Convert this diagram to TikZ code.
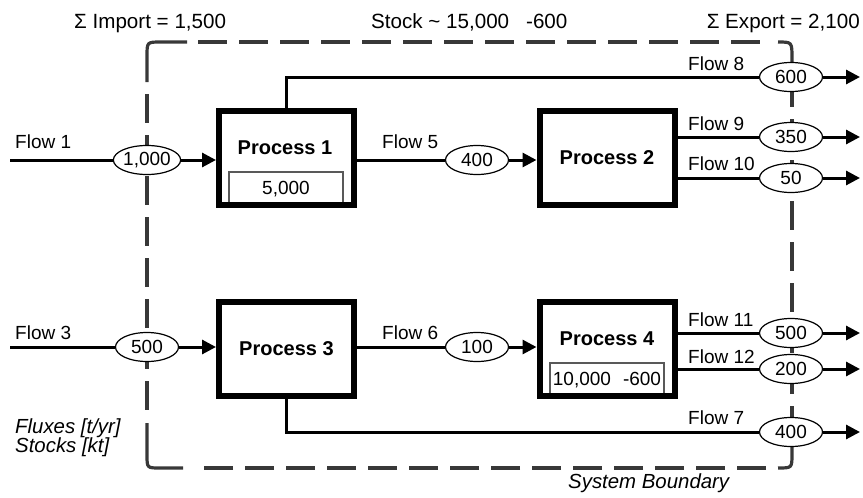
\documentclass[tikz,border=0pt]{standalone}
\usepackage{fontspec}
\setmainfont{Liberation Sans}
\usetikzlibrary{shapes.geometric,arrows.meta}
\begin{document}
\begin{tikzpicture}[x=1pt,y=-1pt,
  txt/.style={inner sep=0pt, font=\fontsize{19}{22}\selectfont},
  lbl/.style={txt, anchor=base west},
  head/.style={inner sep=0pt, font=\fontsize{20.6}{24}\selectfont},
  itl/.style={inner sep=0pt, anchor=base west, font=\fontsize{20.4}{24}\selectfont\itshape},
  proc/.style={draw, line width=6pt, minimum width=135pt, minimum height=94pt, inner sep=0pt, font=\fontsize{20}{24}\selectfont\bfseries},
  proctext/.style={inner sep=0pt, anchor=base, font=\fontsize{20}{24}\selectfont\bfseries},
  stockbox/.style={draw=black!65, line width=1.2pt, minimum width=114pt, minimum height=34pt, inner sep=0pt, font=\fontsize{19}{22}\selectfont},
  val/.style={ellipse, draw, line width=1.2pt, fill=white, minimum width=63pt, minimum height=29pt, inner sep=0pt, font=\fontsize{19}{22}\selectfont},
  flow/.style={line width=3pt},
  flowarrow/.style={flow, -{Triangle[length=14pt,width=14pt]}},
  bdash/.style={line width=3.2pt, draw=black!78, dash pattern=on 29pt off 12pt},
  bsolid/.style={line width=3.2pt, draw=black!78}
]
\useasboundingbox (0,0) rectangle (863,498);

% system boundary
\draw[bsolid] (147,82) -- (147,56) .. controls (147,42) .. (161,42) -- (187,42);
\draw[bdash] (198,42) -- (770,42);
\draw[bsolid] (778,42) .. controls (792,42) .. (792,58) -- (792,66);
\draw[bdash, dash phase=29pt] (792,66) -- (792,446);
\draw[bsolid] (792,446) -- (792,454) .. controls (792,468) .. (778,468);
\draw[bdash] (766,468) -- (195,468);
\draw[bsolid] (147,423) -- (147,455) .. controls (147,468) .. (160,468) -- (183,468);
\draw[bdash] (147,94) -- (147,412);

% stock boxes (drawn first, bottoms hidden under process borders)
\node[stockbox] (s1) at (286,189) {5,000};
\node[stockbox] (s4) at (607,380) {10,000\hspace{12pt}-600};

% processes
\node[proc] (p1) at (286.5,158) {};
\node[proc] (p2) at (607,158) {Process 2};
\node[proc] (p3) at (286.5,348.5) {Process 3};
\node[proc] (p4) at (607,349) {};
\node[proctext] (p1t) at (285,154) {Process 1};
\node[proctext] (p4t) at (607,345) {Process 4};

% value ellipses
\node[val] (e1) at (147,160) {1,000};
\node[val] (e5) at (477,160) {400};
\node[val] (e8) at (791,77) {600};
\node[val] (e9) at (791,137) {350};
\node[val] (e10) at (791,178) {50};
\node[val] (e3) at (147,347) {500};
\node[val] (e6) at (477,347) {100};
\node[val] (e11) at (791,333) {500};
\node[val] (e12) at (791,369) {200};
\node[val] (e7) at (791,432) {400};

% free ends
\coordinate (in1) at (10,160);
\coordinate (in3) at (10,347);
\coordinate (o8) at (860,77);
\coordinate (o9) at (860,137);
\coordinate (o10) at (860,178);
\coordinate (o11) at (860,333);
\coordinate (o12) at (860,369);
\coordinate (o7) at (860,432);

% flows
\draw[flow] (in1) -- (e1.west);
\draw[flowarrow] (e1.east) -- (e1.east -| p1.west);
\draw[flow] (p1.east |- e5.west) -- (e5.west);
\draw[flowarrow] (e5.east) -- (e5.east -| p2.west);
\draw[flow] (p1.north) |- (e8.west);
\draw[flowarrow] (e8.east) -- (o8);
\draw[flow] (p2.east |- e9.west) -- (e9.west);
\draw[flowarrow] (e9.east) -- (o9);
\draw[flow] (p2.east |- e10.west) -- (e10.west);
\draw[flowarrow] (e10.east) -- (o10);
\draw[flow] (in3) -- (e3.west);
\draw[flowarrow] (e3.east) -- (e3.east -| p3.west);
\draw[flow] (p3.east |- e6.west) -- (e6.west);
\draw[flowarrow] (e6.east) -- (e6.east -| p4.west);
\draw[flow] (p4.east |- e11.west) -- (e11.west);
\draw[flowarrow] (e11.east) -- (o11);
\draw[flow] (p4.east |- e12.west) -- (e12.west);
\draw[flowarrow] (e12.east) -- (o12);
\draw[flow] (p3.south) |- (e7.west);
\draw[flowarrow] (e7.east) -- (o7);

% flow labels
\node[lbl] (l1) at (15,148) {Flow 1};
\node[lbl] (l5) at (382,148) {Flow 5};
\node[lbl] (l8) at (688,70) {Flow 8};
\node[lbl] (l9) at (688,130) {Flow 9};
\node[lbl] (l10) at (688,170) {Flow 10};
\node[lbl] (l3) at (15,339) {Flow 3};
\node[lbl] (l6) at (382,339) {Flow 6};
\node[lbl] (l11) at (688,326) {Flow 11};
\node[lbl] (l12) at (688,363) {Flow 12};
\node[lbl] (l7) at (688,424) {Flow 7};

% headings and notes
\node[head, anchor=base west] (imp) at (74,28) {Σ Import = 1,500};
\node[head, anchor=base west] (stk) at (371,28) {Stock \textasciitilde{} 15,000\hspace{17pt}-600};
\node[head, anchor=base east] (exp) at (860,28) {Σ Export = 2,100};
\node[itl] (fx) at (15,433) {Fluxes [t/yr]};
\node[itl] (st) at (15,452) {Stocks [kt]};
\node[itl] (sb) at (568,488) {System Boundary};
\end{tikzpicture}
\end{document}
